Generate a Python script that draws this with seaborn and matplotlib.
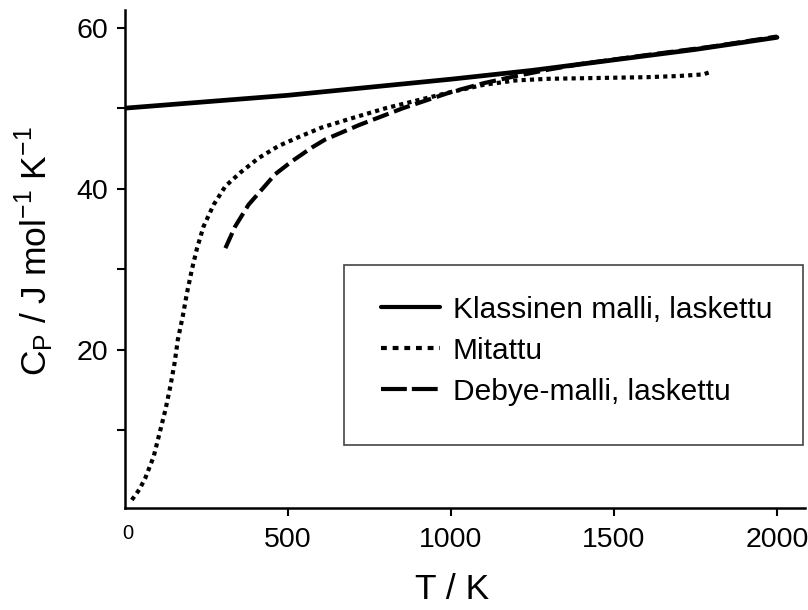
import matplotlib
matplotlib.use("Agg")
import matplotlib.pyplot as plt
from matplotlib.lines import Line2D
from matplotlib.patches import Rectangle
import seaborn as sns

# Klassinen malli (laskettu)
t_klassinen = [0, 250, 500, 750, 1000, 1250, 1500, 1750, 2000]
cp_klassinen = [50.0, 50.8, 51.6, 52.6, 53.6, 54.7, 56.0, 57.3, 58.8]

# Mitattu
t_mitattu = [21, 44, 62, 88, 106, 124, 139, 152, 162, 177, 190, 205, 221, 241, 272, 308,
             354, 410, 471, 538, 604, 700, 800, 900, 1000, 1100, 1200, 1300, 1450, 1600,
             1700, 1775, 1795]
cp_mitattu = [1.3, 2.6, 4.0, 6.7, 9.6, 12.5, 15.4, 18.3, 21.2, 24.1, 27.0, 29.9, 32.6, 35.3,
              38.0, 40.3, 42.0, 43.8, 45.3, 46.5, 47.6, 48.8, 50.0, 51.0, 52.0, 52.9, 53.45,
              53.65, 53.75, 53.85, 54.0, 54.2, 54.5]

# Debye-malli (laskettu)
t_debye = [308, 338, 379, 420, 461, 512, 573, 614, 718, 853, 1000, 1100, 1200, 1300, 1400,
           1600, 1800, 2000]
cp_debye = [32.6, 35.3, 38.0, 39.9, 41.8, 43.4, 45.1, 46.1, 47.9, 50.0, 52.0, 53.1, 54.0,
            54.8, 55.5, 56.6, 57.65, 58.9]

labels = ["Klassinen malli, laskettu", "Mitattu", "Debye-malli, laskettu"]
x_ticks = [500, 1000, 1500, 2000]
y_ticks = [20, 40, 60]
y_minor = [10, 30, 50]

sns.set_theme(style="ticks")
plt.rcParams["font.family"] = ["Liberation Sans", "DejaVu Sans"]
plt.rcParams["mathtext.fontset"] = "custom"
plt.rcParams["mathtext.rm"] = "Liberation Sans"
plt.rcParams["text.color"] = "black"
plt.rcParams["axes.labelcolor"] = "black"

fig = plt.figure(figsize=(8.08, 6.10), dpi=100)
ax = fig.add_axes([0.1547, 0.1672, 0.8416, 0.8164])

sns.lineplot(x=t_klassinen, y=cp_klassinen, ax=ax, color="black", lw=3.4)
sns.lineplot(x=t_mitattu, y=cp_mitattu, ax=ax, color="black", lw=3,
             linestyle=(0, (1, 1)))
sns.lineplot(x=t_debye, y=cp_debye, ax=ax, color="black", lw=3,
             linestyle=(0, (4, 1.4)))

ax.set_xlim(0, 2086)
ax.set_ylim(0.3, 62.2)
ax.set_xticks(x_ticks)
ax.set_yticks(y_ticks)
ax.set_yticks(y_minor, minor=True)
sns.despine(ax=ax)
for s in ["left", "bottom"]:
    ax.spines[s].set_linewidth(1.8)
    ax.spines[s].set_color("black")
ax.tick_params(axis="both", which="both", direction="out", length=6, width=1.5,
               colors="black", labelsize=20.5)
ax.tick_params(axis="x", pad=8)
ax.tick_params(axis="y", pad=6)
ax.annotate("0", xy=(0, 0), xycoords=("data", "axes fraction"), xytext=(2, -18),
            textcoords="offset points", ha="center", va="center", fontsize=14.5)

ax.set_xlabel("T / K", fontsize=25.5)
ax.xaxis.set_label_coords(0.4816, -0.13)
ax.set_ylabel(r"C$_\mathregular{P}$ / J mol$^\mathregular{-1}$ K$^\mathregular{-1}$", fontsize=25.5)
ax.yaxis.set_label_coords(-0.102, 0.516)

# legend box
ax.add_patch(Rectangle((0.322, 0.1265), 0.675, 0.3615, transform=ax.transAxes,
                       facecolor="white", edgecolor="#444444", lw=1.2, zorder=3))
handles = [
    Line2D([], [], color="black", lw=3),
    Line2D([], [], color="black", lw=3, linestyle=(0, (1.4, 1.4))),
    Line2D([], [], color="black", lw=3, linestyle=(0, (6.2, 1.2))),
]
leg = ax.legend(handles, labels, loc="upper left", bbox_to_anchor=(0.3765, 0.426),
                frameon=False, fontsize=21.5, handlelength=1.97, handletextpad=0.44,
                labelspacing=0.43, borderpad=0, borderaxespad=0)
leg.set_zorder(4)

fig.savefig("out.png", dpi=100)
